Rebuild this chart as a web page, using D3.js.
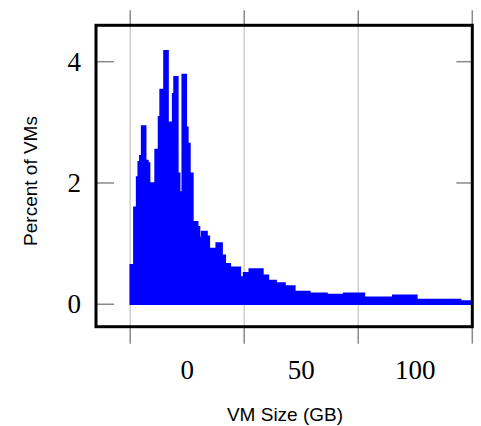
<!DOCTYPE html>
<html>
<head>
<meta charset="utf-8">
<script src="https://cdn.jsdelivr.net/npm/d3@7"></script>
<style>
  body { margin: 0; background: #fff; }
  .tickLabel { font-family: "Liberation Serif", "Times New Roman", serif; font-size: 27px; fill: #000; }
  .axisLabel { font-family: "Liberation Sans", Arial, sans-serif; font-size: 19px; fill: #000; }
</style>
</head>
<body>
<div class="hist-chart-div"></div>
<script>
// bin edges (GB) and share of VMs in each bin (%)
const binEdges = [-25, -23.4, -22.2, -21.5, -20.8, -20.0, -18.2, -17.2, -16.5, -16.0,
  -14.5, -14.1, -12.6, -11.9, -10.2, -8.4, -6.8, -6.4, -5.8, -4.1,
  -3.3, -2.9, -2.2, -0.4, 0.3, 1.2, 2.5, 4.6, 5.4, 6.3,
  8.7, 9.7, 12.7, 15.3, 16.7, 18.9, 23.3, 24.7, 27.2, 33.2,
  35.6, 39.0, 42.9, 47.2, 53.8, 61.3, 68.6, 77.7, 90.1, 100.7,
  119.9, 125];
const percentVMs = [0.65, 1.6, 2.1, 2.35, 2.45, 2.94, 2.37, 2.33, 1.8, 2.0,
  1.75, 2.55, 3.09, 3.54, 4.18, 3.0, 2.6, 3.47, 3.75, 2.16,
  1.72, 1.85, 3.79, 2.92, 2.65, 2.16, 1.36, 1.28, 1.10, 1.2,
  1.12, 0.92, 1.01, 0.81, 0.67, 0.61, 0.45, 0.52, 0.58, 0.48,
  0.39, 0.35, 0.30, 0.21, 0.18, 0.16, 0.18, 0.115, 0.15, 0.08,
  0.055];
const xTickValues = [0, 50, 100];
const xGridValues = [-25, 25, 75, 125];
const yTickValues = [0, 2, 4];

const width = 481;
const height = 426;

const margin = { top: 25.3, right: 8.7, bottom: 99.3, left: 96 };

const svg = d3.select(".hist-chart-div").append("svg")
  .attr("width", width)
  .attr("height", height);

const x = d3.scaleLinear()
  .domain([-40, 125])
  .range([margin.left, width - margin.right]);

const y = d3.scaleLinear()
  .domain([-0.37, 4.6])
  .range([height - margin.bottom, margin.top]);

const boxTop = margin.top, boxBottom = height - margin.bottom;

// vertical grid lines, lighter inside the box, darker where they stick out
svg.append("g")
  .selectAll("line")
  .data(xGridValues)
  .join("line")
  .attr("x1", d => x(d)).attr("x2", d => x(d))
  .attr("y1", boxTop).attr("y2", boxBottom)
  .style("stroke", "#cfcfcf")
  .style("stroke-width", 1.5);

svg.append("g")
  .selectAll("line")
  .data(xGridValues.flatMap(d => [[d, boxTop - 15, boxTop], [d, boxBottom, boxBottom + 17]]))
  .join("line")
  .attr("x1", d => x(d[0])).attr("x2", d => x(d[0]))
  .attr("y1", d => d[1]).attr("y2", d => d[2])
  .style("stroke", "#8a8a8a")
  .style("stroke-width", 1.5);

// y ticks inside the box on both sides
svg.append("g")
  .selectAll("line")
  .data(yTickValues.flatMap(d => [[d, margin.left, margin.left + 18], [d, width - margin.right - 16, width - margin.right]]))
  .join("line")
  .attr("x1", d => d[1]).attr("x2", d => d[2])
  .attr("y1", d => y(d[0])).attr("y2", d => y(d[0]))
  .style("stroke", "#8a8a8a")
  .style("stroke-width", 1.5);

// histogram as a step area
const steps = percentVMs.map((v, i) => ({ x: binEdges[i], v: v }));
steps.push({ x: binEdges[binEdges.length - 1], v: percentVMs[percentVMs.length - 1] });

const area = d3.area()
  .curve(d3.curveStepAfter)
  .x(d => x(d.x))
  .y0(y(0))
  .y1(d => y(d.v));

svg.append("path")
  .datum(steps)
  .attr("d", area)
  .style("fill", "#0000ff")
  .style("stroke", "#0000ff")
  .style("stroke-width", 1.5);

// box
svg.append("rect")
  .attr("x", margin.left)
  .attr("y", boxTop)
  .attr("width", width - margin.left - margin.right)
  .attr("height", boxBottom - boxTop)
  .style("fill", "none")
  .style("stroke", "#000")
  .style("stroke-width", 3);

// tick labels
svg.append("g")
  .selectAll("text")
  .data(yTickValues)
  .join("text")
  .attr("class", "tickLabel")
  .attr("x", 81)
  .attr("y", d => y(d))
  .attr("dy", "0.33em")
  .style("text-anchor", "end")
  .text(d => d);

svg.append("g")
  .selectAll("text")
  .data(xTickValues)
  .join("text")
  .attr("class", "tickLabel")
  .attr("x", d => x(d))
  .attr("y", 379)
  .style("text-anchor", "middle")
  .text(d => d);

// axis titles
svg.append("text")
  .attr("class", "axisLabel")
  .attr("x", 285)
  .attr("y", 421)
  .style("text-anchor", "middle")
  .text("VM Size (GB)");

svg.append("text")
  .attr("class", "axisLabel")
  .attr("transform", "translate(37,181) rotate(-90)")
  .style("text-anchor", "middle")
  .text("Percent of VMs");
</script>
</body>
</html>
